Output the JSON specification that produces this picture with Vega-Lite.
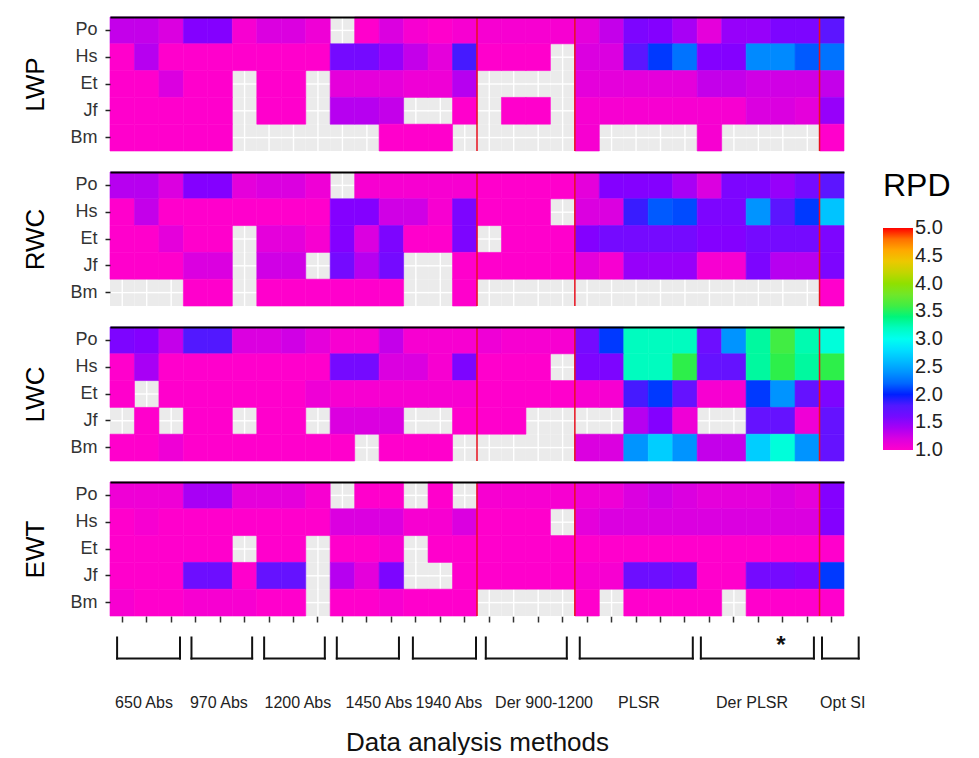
{
"$schema": "https://vega.github.io/schema/vega-lite/v6.json",
"padding": {"left": 22, "top": 7, "right": 5, "bottom": 0},
"spacing": 10,
"config": {
  "font": "Liberation Sans",
  "view": {"stroke": null},
  "legend": {"orient": "none", "legendX": 773, "legendY": 154, "direction": "vertical", "gradientLength": 222, "gradientThickness": 30, "titleFontSize": 32, "titleFontWeight": "normal", "titleColor": "#000", "titlePadding": 25, "labelFontSize": 20, "labelColor": "#222", "labelOffset": 18, "labelOverlap": false, "labelBaseline": "middle", "gradientStrokeWidth": 0}
},
"datasets": {"cells": [
{"t":"LWP","s":"Po","m":1,"v":1.3},{"t":"LWP","s":"Po","m":2,"v":1.3},{"t":"LWP","s":"Po","m":3,"v":1.2},{"t":"LWP","s":"Po","m":4,"v":1.5},{"t":"LWP","s":"Po","m":5,"v":1.5},{"t":"LWP","s":"Po","m":6,"v":1.05},{"t":"LWP","s":"Po","m":7,"v":1.2},{"t":"LWP","s":"Po","m":8,"v":1.2},{"t":"LWP","s":"Po","m":9,"v":1.1},{"t":"LWP","s":"Po","m":11,"v":1.0},{"t":"LWP","s":"Po","m":12,"v":1.2},{"t":"LWP","s":"Po","m":13,"v":1.05},{"t":"LWP","s":"Po","m":14,"v":1.0},{"t":"LWP","s":"Po","m":15,"v":1.05},{"t":"LWP","s":"Po","m":16,"v":1.05},{"t":"LWP","s":"Po","m":17,"v":1.05},{"t":"LWP","s":"Po","m":18,"v":1.05},{"t":"LWP","s":"Po","m":19,"v":1.05},{"t":"LWP","s":"Po","m":20,"v":1.15},{"t":"LWP","s":"Po","m":21,"v":1.3},{"t":"LWP","s":"Po","m":22,"v":1.55},{"t":"LWP","s":"Po","m":23,"v":1.5},{"t":"LWP","s":"Po","m":24,"v":1.4},{"t":"LWP","s":"Po","m":25,"v":1.15},{"t":"LWP","s":"Po","m":26,"v":1.45},{"t":"LWP","s":"Po","m":27,"v":1.45},{"t":"LWP","s":"Po","m":28,"v":1.55},{"t":"LWP","s":"Po","m":29,"v":1.55},{"t":"LWP","s":"Po","m":30,"v":1.75},
{"t":"LWP","s":"Hs","m":1,"v":1.0},{"t":"LWP","s":"Hs","m":2,"v":1.35},{"t":"LWP","s":"Hs","m":3,"v":1.0},{"t":"LWP","s":"Hs","m":4,"v":1.0},{"t":"LWP","s":"Hs","m":5,"v":1.0},{"t":"LWP","s":"Hs","m":6,"v":1.0},{"t":"LWP","s":"Hs","m":7,"v":1.0},{"t":"LWP","s":"Hs","m":8,"v":1.0},{"t":"LWP","s":"Hs","m":9,"v":1.0},{"t":"LWP","s":"Hs","m":10,"v":1.6},{"t":"LWP","s":"Hs","m":11,"v":1.6},{"t":"LWP","s":"Hs","m":12,"v":1.45},{"t":"LWP","s":"Hs","m":13,"v":1.3},{"t":"LWP","s":"Hs","m":14,"v":1.15},{"t":"LWP","s":"Hs","m":15,"v":1.85},{"t":"LWP","s":"Hs","m":16,"v":1.0},{"t":"LWP","s":"Hs","m":17,"v":1.0},{"t":"LWP","s":"Hs","m":18,"v":1.0},{"t":"LWP","s":"Hs","m":20,"v":1.2},{"t":"LWP","s":"Hs","m":21,"v":1.2},{"t":"LWP","s":"Hs","m":22,"v":1.75},{"t":"LWP","s":"Hs","m":23,"v":2.05},{"t":"LWP","s":"Hs","m":24,"v":2.25},{"t":"LWP","s":"Hs","m":25,"v":1.5},{"t":"LWP","s":"Hs","m":26,"v":1.5},{"t":"LWP","s":"Hs","m":27,"v":2.35},{"t":"LWP","s":"Hs","m":28,"v":2.35},{"t":"LWP","s":"Hs","m":29,"v":2.15},{"t":"LWP","s":"Hs","m":30,"v":2.25},
{"t":"LWP","s":"Et","m":1,"v":1.0},{"t":"LWP","s":"Et","m":2,"v":1.0},{"t":"LWP","s":"Et","m":3,"v":1.2},{"t":"LWP","s":"Et","m":4,"v":1.0},{"t":"LWP","s":"Et","m":5,"v":1.0},{"t":"LWP","s":"Et","m":7,"v":1.0},{"t":"LWP","s":"Et","m":8,"v":1.0},{"t":"LWP","s":"Et","m":10,"v":1.15},{"t":"LWP","s":"Et","m":11,"v":1.15},{"t":"LWP","s":"Et","m":12,"v":1.15},{"t":"LWP","s":"Et","m":13,"v":1.1},{"t":"LWP","s":"Et","m":14,"v":1.1},{"t":"LWP","s":"Et","m":15,"v":1.35},{"t":"LWP","s":"Et","m":20,"v":1.15},{"t":"LWP","s":"Et","m":21,"v":1.15},{"t":"LWP","s":"Et","m":22,"v":1.15},{"t":"LWP","s":"Et","m":23,"v":1.15},{"t":"LWP","s":"Et","m":24,"v":1.15},{"t":"LWP","s":"Et","m":25,"v":1.3},{"t":"LWP","s":"Et","m":26,"v":1.3},{"t":"LWP","s":"Et","m":27,"v":1.25},{"t":"LWP","s":"Et","m":28,"v":1.25},{"t":"LWP","s":"Et","m":29,"v":1.25},{"t":"LWP","s":"Et","m":30,"v":1.3},
{"t":"LWP","s":"Jf","m":1,"v":1.0},{"t":"LWP","s":"Jf","m":2,"v":1.0},{"t":"LWP","s":"Jf","m":3,"v":1.0},{"t":"LWP","s":"Jf","m":4,"v":1.0},{"t":"LWP","s":"Jf","m":5,"v":1.0},{"t":"LWP","s":"Jf","m":7,"v":1.0},{"t":"LWP","s":"Jf","m":8,"v":1.0},{"t":"LWP","s":"Jf","m":10,"v":1.35},{"t":"LWP","s":"Jf","m":11,"v":1.35},{"t":"LWP","s":"Jf","m":12,"v":1.3},{"t":"LWP","s":"Jf","m":15,"v":1.0},{"t":"LWP","s":"Jf","m":17,"v":1.0},{"t":"LWP","s":"Jf","m":18,"v":1.0},{"t":"LWP","s":"Jf","m":20,"v":1.05},{"t":"LWP","s":"Jf","m":21,"v":1.05},{"t":"LWP","s":"Jf","m":22,"v":1.05},{"t":"LWP","s":"Jf","m":23,"v":1.05},{"t":"LWP","s":"Jf","m":24,"v":1.05},{"t":"LWP","s":"Jf","m":25,"v":1.05},{"t":"LWP","s":"Jf","m":26,"v":1.05},{"t":"LWP","s":"Jf","m":27,"v":1.2},{"t":"LWP","s":"Jf","m":28,"v":1.2},{"t":"LWP","s":"Jf","m":29,"v":1.15},{"t":"LWP","s":"Jf","m":30,"v":1.45},
{"t":"LWP","s":"Bm","m":1,"v":1.0},{"t":"LWP","s":"Bm","m":2,"v":1.0},{"t":"LWP","s":"Bm","m":3,"v":1.0},{"t":"LWP","s":"Bm","m":4,"v":1.0},{"t":"LWP","s":"Bm","m":5,"v":1.0},{"t":"LWP","s":"Bm","m":12,"v":1.0},{"t":"LWP","s":"Bm","m":13,"v":1.0},{"t":"LWP","s":"Bm","m":14,"v":1.0},{"t":"LWP","s":"Bm","m":20,"v":1.05},{"t":"LWP","s":"Bm","m":25,"v":1.05},{"t":"LWP","s":"Bm","m":30,"v":1.0},
{"t":"RWC","s":"Po","m":1,"v":1.35},{"t":"RWC","s":"Po","m":2,"v":1.35},{"t":"RWC","s":"Po","m":3,"v":1.2},{"t":"RWC","s":"Po","m":4,"v":1.5},{"t":"RWC","s":"Po","m":5,"v":1.5},{"t":"RWC","s":"Po","m":6,"v":1.15},{"t":"RWC","s":"Po","m":7,"v":1.2},{"t":"RWC","s":"Po","m":8,"v":1.2},{"t":"RWC","s":"Po","m":9,"v":1.1},{"t":"RWC","s":"Po","m":11,"v":1.05},{"t":"RWC","s":"Po","m":12,"v":1.05},{"t":"RWC","s":"Po","m":13,"v":1.05},{"t":"RWC","s":"Po","m":14,"v":1.05},{"t":"RWC","s":"Po","m":15,"v":1.05},{"t":"RWC","s":"Po","m":16,"v":1.0},{"t":"RWC","s":"Po","m":17,"v":1.0},{"t":"RWC","s":"Po","m":18,"v":1.0},{"t":"RWC","s":"Po","m":19,"v":1.0},{"t":"RWC","s":"Po","m":20,"v":1.15},{"t":"RWC","s":"Po","m":21,"v":1.5},{"t":"RWC","s":"Po","m":22,"v":1.5},{"t":"RWC","s":"Po","m":23,"v":1.5},{"t":"RWC","s":"Po","m":24,"v":1.4},{"t":"RWC","s":"Po","m":25,"v":1.2},{"t":"RWC","s":"Po","m":26,"v":1.55},{"t":"RWC","s":"Po","m":27,"v":1.55},{"t":"RWC","s":"Po","m":28,"v":1.45},{"t":"RWC","s":"Po","m":29,"v":1.6},{"t":"RWC","s":"Po","m":30,"v":1.75},
{"t":"RWC","s":"Hs","m":1,"v":1.0},{"t":"RWC","s":"Hs","m":2,"v":1.3},{"t":"RWC","s":"Hs","m":3,"v":1.0},{"t":"RWC","s":"Hs","m":4,"v":1.0},{"t":"RWC","s":"Hs","m":5,"v":1.0},{"t":"RWC","s":"Hs","m":6,"v":1.0},{"t":"RWC","s":"Hs","m":7,"v":1.0},{"t":"RWC","s":"Hs","m":8,"v":1.0},{"t":"RWC","s":"Hs","m":9,"v":1.0},{"t":"RWC","s":"Hs","m":10,"v":1.5},{"t":"RWC","s":"Hs","m":11,"v":1.5},{"t":"RWC","s":"Hs","m":12,"v":1.25},{"t":"RWC","s":"Hs","m":13,"v":1.25},{"t":"RWC","s":"Hs","m":14,"v":1.05},{"t":"RWC","s":"Hs","m":15,"v":1.55},{"t":"RWC","s":"Hs","m":16,"v":1.0},{"t":"RWC","s":"Hs","m":17,"v":1.0},{"t":"RWC","s":"Hs","m":18,"v":1.0},{"t":"RWC","s":"Hs","m":20,"v":1.2},{"t":"RWC","s":"Hs","m":21,"v":1.2},{"t":"RWC","s":"Hs","m":22,"v":1.9},{"t":"RWC","s":"Hs","m":23,"v":2.15},{"t":"RWC","s":"Hs","m":24,"v":2.1},{"t":"RWC","s":"Hs","m":25,"v":1.55},{"t":"RWC","s":"Hs","m":26,"v":1.55},{"t":"RWC","s":"Hs","m":27,"v":2.4},{"t":"RWC","s":"Hs","m":28,"v":1.75},{"t":"RWC","s":"Hs","m":29,"v":2.05},{"t":"RWC","s":"Hs","m":30,"v":2.65},
{"t":"RWC","s":"Et","m":1,"v":1.0},{"t":"RWC","s":"Et","m":2,"v":1.0},{"t":"RWC","s":"Et","m":3,"v":1.15},{"t":"RWC","s":"Et","m":4,"v":1.0},{"t":"RWC","s":"Et","m":5,"v":1.0},{"t":"RWC","s":"Et","m":7,"v":1.15},{"t":"RWC","s":"Et","m":8,"v":1.15},{"t":"RWC","s":"Et","m":9,"v":1.05},{"t":"RWC","s":"Et","m":10,"v":1.5},{"t":"RWC","s":"Et","m":11,"v":1.2},{"t":"RWC","s":"Et","m":12,"v":1.55},{"t":"RWC","s":"Et","m":13,"v":1.0},{"t":"RWC","s":"Et","m":14,"v":1.0},{"t":"RWC","s":"Et","m":15,"v":1.55},{"t":"RWC","s":"Et","m":17,"v":1.0},{"t":"RWC","s":"Et","m":18,"v":1.0},{"t":"RWC","s":"Et","m":19,"v":1.0},{"t":"RWC","s":"Et","m":20,"v":1.5},{"t":"RWC","s":"Et","m":21,"v":1.6},{"t":"RWC","s":"Et","m":22,"v":1.6},{"t":"RWC","s":"Et","m":23,"v":1.6},{"t":"RWC","s":"Et","m":24,"v":1.6},{"t":"RWC","s":"Et","m":25,"v":1.5},{"t":"RWC","s":"Et","m":26,"v":1.5},{"t":"RWC","s":"Et","m":27,"v":1.6},{"t":"RWC","s":"Et","m":28,"v":1.6},{"t":"RWC","s":"Et","m":29,"v":1.6},{"t":"RWC","s":"Et","m":30,"v":1.55},
{"t":"RWC","s":"Jf","m":1,"v":1.0},{"t":"RWC","s":"Jf","m":2,"v":1.0},{"t":"RWC","s":"Jf","m":3,"v":1.0},{"t":"RWC","s":"Jf","m":4,"v":1.2},{"t":"RWC","s":"Jf","m":5,"v":1.2},{"t":"RWC","s":"Jf","m":7,"v":1.25},{"t":"RWC","s":"Jf","m":8,"v":1.25},{"t":"RWC","s":"Jf","m":10,"v":1.6},{"t":"RWC","s":"Jf","m":11,"v":1.35},{"t":"RWC","s":"Jf","m":12,"v":1.6},{"t":"RWC","s":"Jf","m":15,"v":1.0},{"t":"RWC","s":"Jf","m":16,"v":1.0},{"t":"RWC","s":"Jf","m":17,"v":1.0},{"t":"RWC","s":"Jf","m":18,"v":1.0},{"t":"RWC","s":"Jf","m":19,"v":1.0},{"t":"RWC","s":"Jf","m":20,"v":1.15},{"t":"RWC","s":"Jf","m":21,"v":1.05},{"t":"RWC","s":"Jf","m":22,"v":1.45},{"t":"RWC","s":"Jf","m":23,"v":1.45},{"t":"RWC","s":"Jf","m":24,"v":1.45},{"t":"RWC","s":"Jf","m":25,"v":1.05},{"t":"RWC","s":"Jf","m":26,"v":1.05},{"t":"RWC","s":"Jf","m":27,"v":1.55},{"t":"RWC","s":"Jf","m":28,"v":1.35},{"t":"RWC","s":"Jf","m":29,"v":1.35},{"t":"RWC","s":"Jf","m":30,"v":1.55},
{"t":"RWC","s":"Bm","m":4,"v":1.0},{"t":"RWC","s":"Bm","m":5,"v":1.0},{"t":"RWC","s":"Bm","m":7,"v":1.0},{"t":"RWC","s":"Bm","m":8,"v":1.0},{"t":"RWC","s":"Bm","m":9,"v":1.0},{"t":"RWC","s":"Bm","m":10,"v":1.0},{"t":"RWC","s":"Bm","m":11,"v":1.0},{"t":"RWC","s":"Bm","m":12,"v":1.0},{"t":"RWC","s":"Bm","m":15,"v":1.0},{"t":"RWC","s":"Bm","m":30,"v":1.0},
{"t":"LWC","s":"Po","m":1,"v":1.55},{"t":"LWC","s":"Po","m":2,"v":1.5},{"t":"LWC","s":"Po","m":3,"v":1.3},{"t":"LWC","s":"Po","m":4,"v":1.8},{"t":"LWC","s":"Po","m":5,"v":1.8},{"t":"LWC","s":"Po","m":6,"v":1.2},{"t":"LWC","s":"Po","m":7,"v":1.2},{"t":"LWC","s":"Po","m":8,"v":1.25},{"t":"LWC","s":"Po","m":9,"v":1.15},{"t":"LWC","s":"Po","m":10,"v":1.05},{"t":"LWC","s":"Po","m":11,"v":1.05},{"t":"LWC","s":"Po","m":12,"v":1.3},{"t":"LWC","s":"Po","m":13,"v":1.05},{"t":"LWC","s":"Po","m":14,"v":1.05},{"t":"LWC","s":"Po","m":15,"v":1.05},{"t":"LWC","s":"Po","m":16,"v":1.1},{"t":"LWC","s":"Po","m":17,"v":1.05},{"t":"LWC","s":"Po","m":18,"v":1.05},{"t":"LWC","s":"Po","m":19,"v":1.05},{"t":"LWC","s":"Po","m":20,"v":1.6},{"t":"LWC","s":"Po","m":21,"v":2.05},{"t":"LWC","s":"Po","m":22,"v":3.2},{"t":"LWC","s":"Po","m":23,"v":3.2},{"t":"LWC","s":"Po","m":24,"v":3.2},{"t":"LWC","s":"Po","m":25,"v":1.65},{"t":"LWC","s":"Po","m":26,"v":2.4},{"t":"LWC","s":"Po","m":27,"v":3.3},{"t":"LWC","s":"Po","m":28,"v":3.6},{"t":"LWC","s":"Po","m":29,"v":3.25},{"t":"LWC","s":"Po","m":30,"v":3.1},
{"t":"LWC","s":"Hs","m":1,"v":1.0},{"t":"LWC","s":"Hs","m":2,"v":1.4},{"t":"LWC","s":"Hs","m":3,"v":1.0},{"t":"LWC","s":"Hs","m":4,"v":1.0},{"t":"LWC","s":"Hs","m":5,"v":1.0},{"t":"LWC","s":"Hs","m":6,"v":1.0},{"t":"LWC","s":"Hs","m":7,"v":1.0},{"t":"LWC","s":"Hs","m":8,"v":1.0},{"t":"LWC","s":"Hs","m":9,"v":1.0},{"t":"LWC","s":"Hs","m":10,"v":1.6},{"t":"LWC","s":"Hs","m":11,"v":1.6},{"t":"LWC","s":"Hs","m":12,"v":1.2},{"t":"LWC","s":"Hs","m":13,"v":1.2},{"t":"LWC","s":"Hs","m":14,"v":1.05},{"t":"LWC","s":"Hs","m":15,"v":1.55},{"t":"LWC","s":"Hs","m":16,"v":1.0},{"t":"LWC","s":"Hs","m":17,"v":1.0},{"t":"LWC","s":"Hs","m":18,"v":1.0},{"t":"LWC","s":"Hs","m":20,"v":1.55},{"t":"LWC","s":"Hs","m":21,"v":1.55},{"t":"LWC","s":"Hs","m":22,"v":3.2},{"t":"LWC","s":"Hs","m":23,"v":3.2},{"t":"LWC","s":"Hs","m":24,"v":3.55},{"t":"LWC","s":"Hs","m":25,"v":1.7},{"t":"LWC","s":"Hs","m":26,"v":1.7},{"t":"LWC","s":"Hs","m":27,"v":3.3},{"t":"LWC","s":"Hs","m":28,"v":3.55},{"t":"LWC","s":"Hs","m":29,"v":3.3},{"t":"LWC","s":"Hs","m":30,"v":3.55},
{"t":"LWC","s":"Et","m":1,"v":1.0},{"t":"LWC","s":"Et","m":3,"v":1.0},{"t":"LWC","s":"Et","m":4,"v":1.0},{"t":"LWC","s":"Et","m":5,"v":1.0},{"t":"LWC","s":"Et","m":6,"v":1.0},{"t":"LWC","s":"Et","m":7,"v":1.0},{"t":"LWC","s":"Et","m":8,"v":1.0},{"t":"LWC","s":"Et","m":9,"v":1.1},{"t":"LWC","s":"Et","m":10,"v":1.05},{"t":"LWC","s":"Et","m":11,"v":1.05},{"t":"LWC","s":"Et","m":12,"v":1.05},{"t":"LWC","s":"Et","m":13,"v":1.05},{"t":"LWC","s":"Et","m":14,"v":1.05},{"t":"LWC","s":"Et","m":15,"v":1.05},{"t":"LWC","s":"Et","m":16,"v":1.0},{"t":"LWC","s":"Et","m":17,"v":1.0},{"t":"LWC","s":"Et","m":18,"v":1.0},{"t":"LWC","s":"Et","m":19,"v":1.0},{"t":"LWC","s":"Et","m":20,"v":1.05},{"t":"LWC","s":"Et","m":21,"v":1.05},{"t":"LWC","s":"Et","m":22,"v":1.85},{"t":"LWC","s":"Et","m":23,"v":2.05},{"t":"LWC","s":"Et","m":24,"v":1.7},{"t":"LWC","s":"Et","m":25,"v":1.05},{"t":"LWC","s":"Et","m":26,"v":1.05},{"t":"LWC","s":"Et","m":27,"v":2.05},{"t":"LWC","s":"Et","m":28,"v":2.4},{"t":"LWC","s":"Et","m":29,"v":1.7},{"t":"LWC","s":"Et","m":30,"v":1.55},
{"t":"LWC","s":"Jf","m":2,"v":1.0},{"t":"LWC","s":"Jf","m":4,"v":1.0},{"t":"LWC","s":"Jf","m":5,"v":1.0},{"t":"LWC","s":"Jf","m":7,"v":1.0},{"t":"LWC","s":"Jf","m":8,"v":1.0},{"t":"LWC","s":"Jf","m":10,"v":1.2},{"t":"LWC","s":"Jf","m":11,"v":1.2},{"t":"LWC","s":"Jf","m":12,"v":1.2},{"t":"LWC","s":"Jf","m":15,"v":1.0},{"t":"LWC","s":"Jf","m":16,"v":1.0},{"t":"LWC","s":"Jf","m":17,"v":1.0},{"t":"LWC","s":"Jf","m":22,"v":1.35},{"t":"LWC","s":"Jf","m":23,"v":1.5},{"t":"LWC","s":"Jf","m":24,"v":1.1},{"t":"LWC","s":"Jf","m":27,"v":1.7},{"t":"LWC","s":"Jf","m":28,"v":1.7},{"t":"LWC","s":"Jf","m":29,"v":1.1},{"t":"LWC","s":"Jf","m":30,"v":1.7},
{"t":"LWC","s":"Bm","m":1,"v":1.0},{"t":"LWC","s":"Bm","m":2,"v":1.0},{"t":"LWC","s":"Bm","m":3,"v":1.1},{"t":"LWC","s":"Bm","m":4,"v":1.0},{"t":"LWC","s":"Bm","m":5,"v":1.0},{"t":"LWC","s":"Bm","m":6,"v":1.0},{"t":"LWC","s":"Bm","m":7,"v":1.0},{"t":"LWC","s":"Bm","m":8,"v":1.0},{"t":"LWC","s":"Bm","m":9,"v":1.0},{"t":"LWC","s":"Bm","m":10,"v":1.0},{"t":"LWC","s":"Bm","m":12,"v":1.0},{"t":"LWC","s":"Bm","m":13,"v":1.0},{"t":"LWC","s":"Bm","m":14,"v":1.0},{"t":"LWC","s":"Bm","m":20,"v":1.2},{"t":"LWC","s":"Bm","m":21,"v":1.2},{"t":"LWC","s":"Bm","m":22,"v":2.4},{"t":"LWC","s":"Bm","m":23,"v":2.7},{"t":"LWC","s":"Bm","m":24,"v":2.4},{"t":"LWC","s":"Bm","m":25,"v":1.3},{"t":"LWC","s":"Bm","m":26,"v":1.3},{"t":"LWC","s":"Bm","m":27,"v":2.7},{"t":"LWC","s":"Bm","m":28,"v":3.1},{"t":"LWC","s":"Bm","m":29,"v":2.4},{"t":"LWC","s":"Bm","m":30,"v":1.7},
{"t":"EWT","s":"Po","m":1,"v":1.1},{"t":"EWT","s":"Po","m":2,"v":1.1},{"t":"EWT","s":"Po","m":3,"v":1.1},{"t":"EWT","s":"Po","m":4,"v":1.4},{"t":"EWT","s":"Po","m":5,"v":1.4},{"t":"EWT","s":"Po","m":6,"v":1.15},{"t":"EWT","s":"Po","m":7,"v":1.15},{"t":"EWT","s":"Po","m":8,"v":1.15},{"t":"EWT","s":"Po","m":9,"v":1.05},{"t":"EWT","s":"Po","m":11,"v":1.0},{"t":"EWT","s":"Po","m":12,"v":1.0},{"t":"EWT","s":"Po","m":14,"v":1.0},{"t":"EWT","s":"Po","m":16,"v":1.05},{"t":"EWT","s":"Po","m":17,"v":1.05},{"t":"EWT","s":"Po","m":18,"v":1.05},{"t":"EWT","s":"Po","m":19,"v":1.05},{"t":"EWT","s":"Po","m":20,"v":1.1},{"t":"EWT","s":"Po","m":21,"v":1.1},{"t":"EWT","s":"Po","m":22,"v":1.2},{"t":"EWT","s":"Po","m":23,"v":1.25},{"t":"EWT","s":"Po","m":24,"v":1.2},{"t":"EWT","s":"Po","m":25,"v":1.15},{"t":"EWT","s":"Po","m":26,"v":1.15},{"t":"EWT","s":"Po","m":27,"v":1.15},{"t":"EWT","s":"Po","m":28,"v":1.2},{"t":"EWT","s":"Po","m":29,"v":1.15},{"t":"EWT","s":"Po","m":30,"v":1.5},
{"t":"EWT","s":"Hs","m":1,"v":1.0},{"t":"EWT","s":"Hs","m":2,"v":1.05},{"t":"EWT","s":"Hs","m":3,"v":1.0},{"t":"EWT","s":"Hs","m":4,"v":1.0},{"t":"EWT","s":"Hs","m":5,"v":1.0},{"t":"EWT","s":"Hs","m":6,"v":1.0},{"t":"EWT","s":"Hs","m":7,"v":1.0},{"t":"EWT","s":"Hs","m":8,"v":1.0},{"t":"EWT","s":"Hs","m":9,"v":1.0},{"t":"EWT","s":"Hs","m":10,"v":1.2},{"t":"EWT","s":"Hs","m":11,"v":1.2},{"t":"EWT","s":"Hs","m":12,"v":1.2},{"t":"EWT","s":"Hs","m":13,"v":1.05},{"t":"EWT","s":"Hs","m":14,"v":1.05},{"t":"EWT","s":"Hs","m":15,"v":1.2},{"t":"EWT","s":"Hs","m":16,"v":1.0},{"t":"EWT","s":"Hs","m":17,"v":1.0},{"t":"EWT","s":"Hs","m":18,"v":1.0},{"t":"EWT","s":"Hs","m":20,"v":1.15},{"t":"EWT","s":"Hs","m":21,"v":1.2},{"t":"EWT","s":"Hs","m":22,"v":1.2},{"t":"EWT","s":"Hs","m":23,"v":1.2},{"t":"EWT","s":"Hs","m":24,"v":1.2},{"t":"EWT","s":"Hs","m":25,"v":1.2},{"t":"EWT","s":"Hs","m":26,"v":1.2},{"t":"EWT","s":"Hs","m":27,"v":1.2},{"t":"EWT","s":"Hs","m":28,"v":1.2},{"t":"EWT","s":"Hs","m":29,"v":1.2},{"t":"EWT","s":"Hs","m":30,"v":1.5},
{"t":"EWT","s":"Et","m":1,"v":1.0},{"t":"EWT","s":"Et","m":2,"v":1.0},{"t":"EWT","s":"Et","m":3,"v":1.0},{"t":"EWT","s":"Et","m":4,"v":1.0},{"t":"EWT","s":"Et","m":5,"v":1.0},{"t":"EWT","s":"Et","m":7,"v":1.0},{"t":"EWT","s":"Et","m":8,"v":1.0},{"t":"EWT","s":"Et","m":10,"v":1.0},{"t":"EWT","s":"Et","m":11,"v":1.0},{"t":"EWT","s":"Et","m":12,"v":1.05},{"t":"EWT","s":"Et","m":14,"v":1.0},{"t":"EWT","s":"Et","m":15,"v":1.0},{"t":"EWT","s":"Et","m":16,"v":1.0},{"t":"EWT","s":"Et","m":17,"v":1.0},{"t":"EWT","s":"Et","m":18,"v":1.0},{"t":"EWT","s":"Et","m":19,"v":1.0},{"t":"EWT","s":"Et","m":20,"v":1.0},{"t":"EWT","s":"Et","m":21,"v":1.0},{"t":"EWT","s":"Et","m":22,"v":1.0},{"t":"EWT","s":"Et","m":23,"v":1.0},{"t":"EWT","s":"Et","m":24,"v":1.0},{"t":"EWT","s":"Et","m":25,"v":1.0},{"t":"EWT","s":"Et","m":26,"v":1.0},{"t":"EWT","s":"Et","m":27,"v":1.0},{"t":"EWT","s":"Et","m":28,"v":1.0},{"t":"EWT","s":"Et","m":29,"v":1.0},{"t":"EWT","s":"Et","m":30,"v":1.0},
{"t":"EWT","s":"Jf","m":1,"v":1.0},{"t":"EWT","s":"Jf","m":2,"v":1.0},{"t":"EWT","s":"Jf","m":3,"v":1.0},{"t":"EWT","s":"Jf","m":4,"v":1.65},{"t":"EWT","s":"Jf","m":5,"v":1.65},{"t":"EWT","s":"Jf","m":6,"v":1.0},{"t":"EWT","s":"Jf","m":7,"v":1.7},{"t":"EWT","s":"Jf","m":8,"v":1.7},{"t":"EWT","s":"Jf","m":10,"v":1.35},{"t":"EWT","s":"Jf","m":11,"v":1.15},{"t":"EWT","s":"Jf","m":12,"v":1.55},{"t":"EWT","s":"Jf","m":15,"v":1.0},{"t":"EWT","s":"Jf","m":16,"v":1.0},{"t":"EWT","s":"Jf","m":17,"v":1.0},{"t":"EWT","s":"Jf","m":18,"v":1.0},{"t":"EWT","s":"Jf","m":19,"v":1.0},{"t":"EWT","s":"Jf","m":20,"v":1.05},{"t":"EWT","s":"Jf","m":21,"v":1.05},{"t":"EWT","s":"Jf","m":22,"v":1.65},{"t":"EWT","s":"Jf","m":23,"v":1.65},{"t":"EWT","s":"Jf","m":24,"v":1.6},{"t":"EWT","s":"Jf","m":25,"v":1.0},{"t":"EWT","s":"Jf","m":26,"v":1.0},{"t":"EWT","s":"Jf","m":27,"v":1.6},{"t":"EWT","s":"Jf","m":28,"v":1.6},{"t":"EWT","s":"Jf","m":29,"v":1.55},{"t":"EWT","s":"Jf","m":30,"v":2.05},
{"t":"EWT","s":"Bm","m":1,"v":1.05},{"t":"EWT","s":"Bm","m":2,"v":1.0},{"t":"EWT","s":"Bm","m":3,"v":1.0},{"t":"EWT","s":"Bm","m":4,"v":1.05},{"t":"EWT","s":"Bm","m":5,"v":1.05},{"t":"EWT","s":"Bm","m":6,"v":1.05},{"t":"EWT","s":"Bm","m":7,"v":1.0},{"t":"EWT","s":"Bm","m":8,"v":1.0},{"t":"EWT","s":"Bm","m":10,"v":1.0},{"t":"EWT","s":"Bm","m":11,"v":1.0},{"t":"EWT","s":"Bm","m":12,"v":1.05},{"t":"EWT","s":"Bm","m":13,"v":1.0},{"t":"EWT","s":"Bm","m":14,"v":1.0},{"t":"EWT","s":"Bm","m":15,"v":1.0},{"t":"EWT","s":"Bm","m":20,"v":1.0},{"t":"EWT","s":"Bm","m":22,"v":1.0},{"t":"EWT","s":"Bm","m":23,"v":1.0},{"t":"EWT","s":"Bm","m":24,"v":1.0},{"t":"EWT","s":"Bm","m":25,"v":1.0},{"t":"EWT","s":"Bm","m":27,"v":1.0},{"t":"EWT","s":"Bm","m":28,"v":1.0},{"t":"EWT","s":"Bm","m":29,"v":1.0},{"t":"EWT","s":"Bm","m":30,"v":1.0}
],
"na": [
{"t":"LWP","s":"Po","m":10},{"t":"LWP","s":"Hs","m":19},
{"t":"LWP","s":"Et","m":6},{"t":"LWP","s":"Et","m":9},{"t":"LWP","s":"Et","m":16},{"t":"LWP","s":"Et","m":17},{"t":"LWP","s":"Et","m":18},{"t":"LWP","s":"Et","m":19},
{"t":"LWP","s":"Jf","m":6},{"t":"LWP","s":"Jf","m":9},{"t":"LWP","s":"Jf","m":13},{"t":"LWP","s":"Jf","m":14},{"t":"LWP","s":"Jf","m":16},{"t":"LWP","s":"Jf","m":19},
{"t":"LWP","s":"Bm","m":6},{"t":"LWP","s":"Bm","m":7},{"t":"LWP","s":"Bm","m":8},{"t":"LWP","s":"Bm","m":9},{"t":"LWP","s":"Bm","m":10},{"t":"LWP","s":"Bm","m":11},{"t":"LWP","s":"Bm","m":15},{"t":"LWP","s":"Bm","m":16},{"t":"LWP","s":"Bm","m":17},{"t":"LWP","s":"Bm","m":18},{"t":"LWP","s":"Bm","m":19},{"t":"LWP","s":"Bm","m":21},{"t":"LWP","s":"Bm","m":22},{"t":"LWP","s":"Bm","m":23},{"t":"LWP","s":"Bm","m":24},{"t":"LWP","s":"Bm","m":26},{"t":"LWP","s":"Bm","m":27},{"t":"LWP","s":"Bm","m":28},{"t":"LWP","s":"Bm","m":29},
{"t":"RWC","s":"Po","m":10},{"t":"RWC","s":"Hs","m":19},{"t":"RWC","s":"Et","m":6},{"t":"RWC","s":"Et","m":16},
{"t":"RWC","s":"Jf","m":6},{"t":"RWC","s":"Jf","m":9},{"t":"RWC","s":"Jf","m":13},{"t":"RWC","s":"Jf","m":14},
{"t":"RWC","s":"Bm","m":1},{"t":"RWC","s":"Bm","m":2},{"t":"RWC","s":"Bm","m":3},{"t":"RWC","s":"Bm","m":6},{"t":"RWC","s":"Bm","m":13},{"t":"RWC","s":"Bm","m":14},{"t":"RWC","s":"Bm","m":16},{"t":"RWC","s":"Bm","m":17},{"t":"RWC","s":"Bm","m":18},{"t":"RWC","s":"Bm","m":19},{"t":"RWC","s":"Bm","m":20},{"t":"RWC","s":"Bm","m":21},{"t":"RWC","s":"Bm","m":22},{"t":"RWC","s":"Bm","m":23},{"t":"RWC","s":"Bm","m":24},{"t":"RWC","s":"Bm","m":25},{"t":"RWC","s":"Bm","m":26},{"t":"RWC","s":"Bm","m":27},{"t":"RWC","s":"Bm","m":28},{"t":"RWC","s":"Bm","m":29},
{"t":"LWC","s":"Hs","m":19},{"t":"LWC","s":"Et","m":2},
{"t":"LWC","s":"Jf","m":1},{"t":"LWC","s":"Jf","m":3},{"t":"LWC","s":"Jf","m":6},{"t":"LWC","s":"Jf","m":9},{"t":"LWC","s":"Jf","m":13},{"t":"LWC","s":"Jf","m":14},{"t":"LWC","s":"Jf","m":18},{"t":"LWC","s":"Jf","m":19},{"t":"LWC","s":"Jf","m":20},{"t":"LWC","s":"Jf","m":21},{"t":"LWC","s":"Jf","m":25},{"t":"LWC","s":"Jf","m":26},
{"t":"LWC","s":"Bm","m":11},{"t":"LWC","s":"Bm","m":15},{"t":"LWC","s":"Bm","m":16},{"t":"LWC","s":"Bm","m":17},{"t":"LWC","s":"Bm","m":18},{"t":"LWC","s":"Bm","m":19},
{"t":"EWT","s":"Po","m":10},{"t":"EWT","s":"Po","m":13},{"t":"EWT","s":"Po","m":15},{"t":"EWT","s":"Hs","m":19},
{"t":"EWT","s":"Et","m":6},{"t":"EWT","s":"Et","m":9},{"t":"EWT","s":"Et","m":13},
{"t":"EWT","s":"Jf","m":9},{"t":"EWT","s":"Jf","m":13},{"t":"EWT","s":"Jf","m":14},
{"t":"EWT","s":"Bm","m":9},{"t":"EWT","s":"Bm","m":16},{"t":"EWT","s":"Bm","m":17},{"t":"EWT","s":"Bm","m":18},{"t":"EWT","s":"Bm","m":19},{"t":"EWT","s":"Bm","m":21},{"t":"EWT","s":"Bm","m":26}
],
"seps": [{"m":16},{"m":20},{"m":30}]
},
"vconcat": [
{"width": 734, "height": 134,
 "layer": [
  {"data": {"name": "na"}, "transform": [{"filter": "datum.t === 'LWP'"}],
   "mark": {"type": "rect", "color": "#ebebeb"},
   "encoding": {
    "x": {"field": "m", "type": "ordinal", "scale": {"domain": [1,2,3,4,5,6,7,8,9,10,11,12,13,14,15,16,17,18,19,20,21,22,23,24,25,26,27,28,29,30], "paddingInner": 0, "paddingOuter": 0},
          "axis": {"orient": "top", "title": null, "labels": false, "ticks": false, "domain": true, "domainColor": "#000", "domainWidth": 2, "grid": false, "zindex": 1, "minExtent": 10}},
    "y": {"field": "s", "type": "nominal", "scale": {"domain": ["Po","Hs","Et","Jf","Bm"], "paddingInner": 0, "paddingOuter": 0},
          "axis": {"title": "LWP", "titleFontSize": 26, "titleFontWeight": "normal", "titleColor": "#000", "titlePadding": 22, "labelFontSize": 18, "labelColor": "#333", "labelPadding": 8, "tickSize": 5, "tickColor": "#222", "tickWidth": 1.5, "domain": false, "grid": false}}}},
  {"data": {"name": "na"}, "transform": [{"filter": "datum.t === 'LWP'"}],
   "mark": {"type": "tick", "orient": "vertical", "color": "#ffffff", "thickness": 1.4, "size": 28, "opacity": 1},
   "encoding": {"x": {"field": "m", "type": "ordinal", "axis": null}, "y": {"field": "s", "type": "nominal"}}},
  {"data": {"name": "na"}, "transform": [{"filter": "datum.t === 'LWP'"}],
   "mark": {"type": "tick", "orient": "horizontal", "color": "#ffffff", "thickness": 1.4, "size": 25.5, "opacity": 1},
   "encoding": {"x": {"field": "m", "type": "ordinal", "axis": null}, "y": {"field": "s", "type": "nominal"}}},
  {"data": {"name": "cells"}, "transform": [{"filter": "datum.t === 'LWP'"}],
   "mark": {"type": "rect", "strokeWidth": 0.6, "stroke": {"expr": "scale('color', datum.v)"}},
   "encoding": {
    "x": {"field": "m", "type": "ordinal", "axis": null},
    "y": {"field": "s", "type": "nominal"},
    "color": {"field": "v", "type": "quantitative", "title": "RPD",
      "scale": {"domain": [1,1.5,2,2.5,3,3.5,4,4.5,5], "range": ["#ff00cc","#8400ff","#0020ff","#00a8ff","#00fff0","#00f050","#90e000","#ffc000","#ff0000"]},
      "legend": {"values": [1,1.5,2,2.5,3,3.5,4,4.5,5], "format": ".1f", "encode": {"labels": {"update": {"baseline": {"value": "middle"}}}}}}}},
  {"data": {"name": "seps"}, "mark": {"type": "rule", "color": "#e8101e", "strokeWidth": 1.5},
   "encoding": {"x": {"field": "m", "type": "ordinal", "bandPosition": 0,
     "axis": {"orient": "bottom", "title": null, "labels": false, "ticks": false, "domain": false, "grid": false, "maxExtent": 0, "minExtent": 0}}}}
 ]},
{"width": 734, "height": 134,
 "layer": [
  {"data": {"name": "na"}, "transform": [{"filter": "datum.t === 'RWC'"}],
   "mark": {"type": "rect", "color": "#ebebeb"},
   "encoding": {
    "x": {"field": "m", "type": "ordinal", "scale": {"domain": [1,2,3,4,5,6,7,8,9,10,11,12,13,14,15,16,17,18,19,20,21,22,23,24,25,26,27,28,29,30], "paddingInner": 0, "paddingOuter": 0},
          "axis": {"orient": "top", "title": null, "labels": false, "ticks": false, "domain": true, "domainColor": "#000", "domainWidth": 2, "grid": false, "zindex": 1, "minExtent": 10}},
    "y": {"field": "s", "type": "nominal", "scale": {"domain": ["Po","Hs","Et","Jf","Bm"], "paddingInner": 0, "paddingOuter": 0},
          "axis": {"title": "RWC", "titleFontSize": 26, "titleFontWeight": "normal", "titleColor": "#000", "titlePadding": 22, "labelFontSize": 18, "labelColor": "#333", "labelPadding": 8, "tickSize": 5, "tickColor": "#222", "tickWidth": 1.5, "domain": false, "grid": false}}}},
  {"data": {"name": "na"}, "transform": [{"filter": "datum.t === 'RWC'"}],
   "mark": {"type": "tick", "orient": "vertical", "color": "#ffffff", "thickness": 1.4, "size": 28, "opacity": 1},
   "encoding": {"x": {"field": "m", "type": "ordinal", "axis": null}, "y": {"field": "s", "type": "nominal"}}},
  {"data": {"name": "na"}, "transform": [{"filter": "datum.t === 'RWC'"}],
   "mark": {"type": "tick", "orient": "horizontal", "color": "#ffffff", "thickness": 1.4, "size": 25.5, "opacity": 1},
   "encoding": {"x": {"field": "m", "type": "ordinal", "axis": null}, "y": {"field": "s", "type": "nominal"}}},
  {"data": {"name": "cells"}, "transform": [{"filter": "datum.t === 'RWC'"}],
   "mark": {"type": "rect", "strokeWidth": 0.6, "stroke": {"expr": "scale('color', datum.v)"}},
   "encoding": {
    "x": {"field": "m", "type": "ordinal", "axis": null},
    "y": {"field": "s", "type": "nominal"},
    "color": {"field": "v", "type": "quantitative", "title": "RPD",
      "scale": {"domain": [1,1.5,2,2.5,3,3.5,4,4.5,5], "range": ["#ff00cc","#8400ff","#0020ff","#00a8ff","#00fff0","#00f050","#90e000","#ffc000","#ff0000"]},
      "legend": {"values": [1,1.5,2,2.5,3,3.5,4,4.5,5], "format": ".1f", "encode": {"labels": {"update": {"baseline": {"value": "middle"}}}}}}}},
  {"data": {"name": "seps"}, "mark": {"type": "rule", "color": "#e8101e", "strokeWidth": 1.5},
   "encoding": {"x": {"field": "m", "type": "ordinal", "bandPosition": 0,
     "axis": {"orient": "bottom", "title": null, "labels": false, "ticks": false, "domain": false, "grid": false, "maxExtent": 0, "minExtent": 0}}}}
 ]},
{"width": 734, "height": 134,
 "layer": [
  {"data": {"name": "na"}, "transform": [{"filter": "datum.t === 'LWC'"}],
   "mark": {"type": "rect", "color": "#ebebeb"},
   "encoding": {
    "x": {"field": "m", "type": "ordinal", "scale": {"domain": [1,2,3,4,5,6,7,8,9,10,11,12,13,14,15,16,17,18,19,20,21,22,23,24,25,26,27,28,29,30], "paddingInner": 0, "paddingOuter": 0},
          "axis": {"orient": "top", "title": null, "labels": false, "ticks": false, "domain": true, "domainColor": "#000", "domainWidth": 2, "grid": false, "zindex": 1, "minExtent": 10}},
    "y": {"field": "s", "type": "nominal", "scale": {"domain": ["Po","Hs","Et","Jf","Bm"], "paddingInner": 0, "paddingOuter": 0},
          "axis": {"title": "LWC", "titleFontSize": 26, "titleFontWeight": "normal", "titleColor": "#000", "titlePadding": 22, "labelFontSize": 18, "labelColor": "#333", "labelPadding": 8, "tickSize": 5, "tickColor": "#222", "tickWidth": 1.5, "domain": false, "grid": false}}}},
  {"data": {"name": "na"}, "transform": [{"filter": "datum.t === 'LWC'"}],
   "mark": {"type": "tick", "orient": "vertical", "color": "#ffffff", "thickness": 1.4, "size": 28, "opacity": 1},
   "encoding": {"x": {"field": "m", "type": "ordinal", "axis": null}, "y": {"field": "s", "type": "nominal"}}},
  {"data": {"name": "na"}, "transform": [{"filter": "datum.t === 'LWC'"}],
   "mark": {"type": "tick", "orient": "horizontal", "color": "#ffffff", "thickness": 1.4, "size": 25.5, "opacity": 1},
   "encoding": {"x": {"field": "m", "type": "ordinal", "axis": null}, "y": {"field": "s", "type": "nominal"}}},
  {"data": {"name": "cells"}, "transform": [{"filter": "datum.t === 'LWC'"}],
   "mark": {"type": "rect", "strokeWidth": 0.6, "stroke": {"expr": "scale('color', datum.v)"}},
   "encoding": {
    "x": {"field": "m", "type": "ordinal", "axis": null},
    "y": {"field": "s", "type": "nominal"},
    "color": {"field": "v", "type": "quantitative", "title": "RPD",
      "scale": {"domain": [1,1.5,2,2.5,3,3.5,4,4.5,5], "range": ["#ff00cc","#8400ff","#0020ff","#00a8ff","#00fff0","#00f050","#90e000","#ffc000","#ff0000"]},
      "legend": {"values": [1,1.5,2,2.5,3,3.5,4,4.5,5], "format": ".1f", "encode": {"labels": {"update": {"baseline": {"value": "middle"}}}}}}}},
  {"data": {"name": "seps"}, "mark": {"type": "rule", "color": "#e8101e", "strokeWidth": 1.5},
   "encoding": {"x": {"field": "m", "type": "ordinal", "bandPosition": 0,
     "axis": {"orient": "bottom", "title": null, "labels": false, "ticks": false, "domain": false, "grid": false, "maxExtent": 0, "minExtent": 0}}}}
 ]},
{"width": 734, "height": 134,
 "layer": [
  {"data": {"name": "na"}, "transform": [{"filter": "datum.t === 'EWT'"}],
   "mark": {"type": "rect", "color": "#ebebeb"},
   "encoding": {
    "x": {"field": "m", "type": "ordinal", "scale": {"domain": [1,2,3,4,5,6,7,8,9,10,11,12,13,14,15,16,17,18,19,20,21,22,23,24,25,26,27,28,29,30], "paddingInner": 0, "paddingOuter": 0},
          "axis": {"orient": "top", "title": null, "labels": false, "ticks": false, "domain": true, "domainColor": "#000", "domainWidth": 2, "grid": false, "zindex": 1, "minExtent": 10}},
    "y": {"field": "s", "type": "nominal", "scale": {"domain": ["Po","Hs","Et","Jf","Bm"], "paddingInner": 0, "paddingOuter": 0},
          "axis": {"title": "EWT", "titleFontSize": 26, "titleFontWeight": "normal", "titleColor": "#000", "titlePadding": 22, "labelFontSize": 18, "labelColor": "#333", "labelPadding": 8, "tickSize": 5, "tickColor": "#222", "tickWidth": 1.5, "domain": false, "grid": false}}}},
  {"data": {"name": "na"}, "transform": [{"filter": "datum.t === 'EWT'"}],
   "mark": {"type": "tick", "orient": "vertical", "color": "#ffffff", "thickness": 1.4, "size": 28, "opacity": 1},
   "encoding": {"x": {"field": "m", "type": "ordinal", "axis": null}, "y": {"field": "s", "type": "nominal"}}},
  {"data": {"name": "na"}, "transform": [{"filter": "datum.t === 'EWT'"}],
   "mark": {"type": "tick", "orient": "horizontal", "color": "#ffffff", "thickness": 1.4, "size": 25.5, "opacity": 1},
   "encoding": {"x": {"field": "m", "type": "ordinal", "axis": null}, "y": {"field": "s", "type": "nominal"}}},
  {"data": {"name": "cells"}, "transform": [{"filter": "datum.t === 'EWT'"}],
   "mark": {"type": "rect", "strokeWidth": 0.6, "stroke": {"expr": "scale('color', datum.v)"}},
   "encoding": {
    "x": {"field": "m", "type": "ordinal", "axis": null},
    "y": {"field": "s", "type": "nominal"},
    "color": {"field": "v", "type": "quantitative", "title": "RPD",
      "scale": {"domain": [1,1.5,2,2.5,3,3.5,4,4.5,5], "range": ["#ff00cc","#8400ff","#0020ff","#00a8ff","#00fff0","#00f050","#90e000","#ffc000","#ff0000"]},
      "legend": {"values": [1,1.5,2,2.5,3,3.5,4,4.5,5], "format": ".1f", "encode": {"labels": {"update": {"baseline": {"value": "middle"}}}}}}}},
  {"data": {"name": "seps"}, "mark": {"type": "rule", "color": "#e8101e", "strokeWidth": 1.5},
   "encoding": {"x": {"field": "m", "type": "ordinal", "bandPosition": 0,
     "axis": {"orient": "bottom", "title": null, "labels": false, "ticks": true, "tickSize": 6, "tickColor": "#333", "tickWidth": 1.5, "domain": false, "grid": false, "bandPosition": 0.5, "minExtent": 0}}}}
 ]},
{"width": 734, "height": 70,
 "data": {"values": [
   {"g":"650 Abs","a":0.29,"b":2.86,"c":1.39},
   {"g":"970 Abs","a":3.33,"b":5.81,"c":4.45},
   {"g":"1200 Abs","a":6.3,"b":8.78,"c":7.68},
   {"g":"1450 Abs","a":9.27,"b":11.81,"c":10.99},
   {"g":"1940 Abs","a":12.38,"b":14.96,"c":13.85},
   {"g":"Der 900-1200","a":15.36,"b":18.67,"c":17.74},
   {"g":"PLSR","a":19.2,"b":23.82,"c":21.62},
   {"g":"Der PLSR","a":24.15,"b":28.77,"c":26.24},
   {"g":"Opt SI","a":29.1,"b":30.6,"c":29.95}
 ]},
 "layer": [
  {"mark": {"type": "rule", "color": "#111", "strokeWidth": 2, "strokeCap": "square"},
   "encoding": {"x": {"field": "a", "type": "quantitative", "scale": {"domain": [0, 30], "nice": false, "zero": false},
      "axis": {"title": "Data analysis methods", "titleFontSize": 26, "titleFontWeight": "normal", "titleColor": "#111", "titlePadding": 18, "labels": false, "ticks": false, "domain": false, "grid": false}},
    "y": {"datum": -0.05, "type": "quantitative", "scale": {"domain": [0, 1], "reverse": true}, "axis": null},
    "y2": {"datum": 0.25}}},
  {"mark": {"type": "rule", "color": "#111", "strokeWidth": 2, "strokeCap": "square"},
   "encoding": {"x": {"field": "b", "type": "quantitative"},
    "y": {"datum": -0.05, "type": "quantitative"},
    "y2": {"datum": 0.25}}},
  {"mark": {"type": "rule", "color": "#111", "strokeWidth": 2, "strokeCap": "square"},
   "encoding": {"x": {"field": "a", "type": "quantitative"}, "x2": {"field": "b"},
    "y": {"datum": 0.25, "type": "quantitative"}}},
  {"mark": {"type": "text", "fontSize": 16, "color": "#222", "baseline": "middle", "align": "center"},
   "encoding": {"x": {"field": "c", "type": "quantitative"},
    "y": {"datum": 0.886, "type": "quantitative"},
    "text": {"field": "g"}}},
  {"data": {"values": [{"p": 27.42, "k": "*"}]},
   "mark": {"type": "text", "fontSize": 24, "fontWeight": "bold", "color": "#111", "baseline": "middle", "align": "center"},
   "encoding": {"x": {"field": "p", "type": "quantitative"},
    "y": {"datum": 0.07, "type": "quantitative"},
    "text": {"field": "k"}}}
 ]}
]
}
